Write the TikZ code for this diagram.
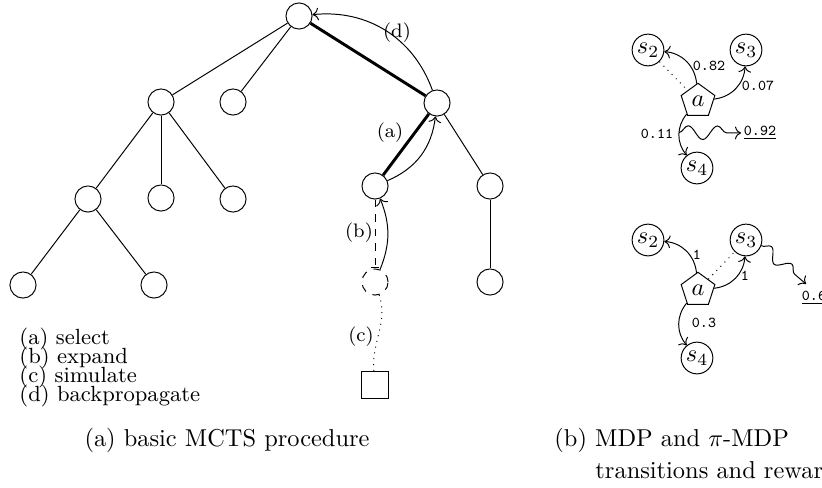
\documentclass[tikz,border=0pt]{standalone}
\usetikzlibrary{shapes.geometric,decorations.pathmorphing,arrows.meta}
\begin{document}
\begin{tikzpicture}[x=0.4098pt,y=-0.4098pt,
  tn/.style={circle,draw,minimum size=10.7pt,inner sep=0pt},
  boldedge/.style={line width=1.2pt},
  st/.style={circle,draw,minimum size=13pt,inner sep=0pt},
  act/.style={regular polygon,regular polygon sides=5,draw,minimum size=14.5pt,inner sep=0pt},
  prob/.style={font=\fontsize{6.2pt}{7pt}\selectfont\ttfamily,inner sep=1pt},
  rew/.style={font=\fontsize{6.2pt}{7pt}\selectfont\ttfamily,anchor=west,inner sep=1pt},
  tlab/.style={font=\footnotesize,inner sep=1pt},
  leg/.style={anchor=west,inner sep=0pt,font=\small},
  snk/.style={->,decorate,decoration={snake,amplitude=2.8pt,segment length=12pt,post length=3pt}}]
\useasboundingbox (0,0) rectangle (822,487);
% ---------- tree ----------
\node[tn] (r) at (299,16) {};
\node[tn] (a1) at (161,102) {};
\node[tn] (a2) at (233,102) {};
\node[tn] (a3) at (437,103) {};
\node[tn] (b1) at (88,199) {};
\node[tn] (b2) at (161,198) {};
\node[tn] (b3) at (233,199) {};
\node[tn] (c1) at (23,285) {};
\node[tn] (c2) at (154,285) {};
\node[tn] (b4) at (375,186) {};
\node[tn] (b5) at (490,186) {};
\node[tn] (c3) at (490,282) {};
\node[tn,dashed] (dc) at (375,282) {};
\node[draw,minimum width=11pt,minimum height=10.7pt,inner sep=0pt] (sq) at (375,385) {};
\draw (r) -- (a1);
\draw (r) -- (a2);
\draw[boldedge] (r) -- (a3);
\draw (a1) -- (b1);
\draw (a1) -- (b2);
\draw (a1) -- (b3);
\draw (b1) -- (c1);
\draw (b1) -- (c2);
\draw[boldedge] (a3) -- (b4);
\draw (a3) -- (b5);
\draw (b5) -- (c3);
\draw[->] (a3) to[bend right=38] (r);
\draw[->] (b4) to[bend right=30] (a3);
\draw[dashed,-{Bar[width=3.5pt]}] (b4) -- (dc);
\draw[->] (dc) to[bend right=22] (b4);
\draw[dotted] (dc) to[out=-72,in=95] (sq);
\node[tlab] (ld) at (397,33) {(d)};
\node[tlab] (la) at (390,133) {(a)};
\node[tlab] (lb) at (359,233) {(b)};
\node[tlab] (lc) at (361,337) {(c)};
\node[leg] (g1) at (19,339) {(a) select};
\node[leg] (g2) at (19,358) {(b) expand};
\node[leg] (g3) at (19,377) {(c) simulate};
\node[leg] (g4) at (19,396) {(d) backpropagate};
\node (cap1) at (227,440) {(a) basic MCTS procedure};
% ---------- MDP top ----------
\node[st] (s2) at (648,50) {$s_2$};
\node[st] (s3) at (746,50) {$s_3$};
\node[act] (a) at (698,101) {$a$};
\node[st] (s4) at (697,168) {$s_4$};
\draw[dotted] (s2) -- (a);
\draw[->] (a) to[bend right=40] (s2);
\draw[->] (a) to[bend right=40] (s3);
\draw[->] (a) to[bend right=40] coordinate[pos=0.45] (m1) (s4);
\node[prob] (p1) at (709,66) {0.82};
\node[prob] (p2) at (758,86) {0.07};
\node[prob] (p3) at (657,134) {0.11};
\node[rew] (r1) at (741,133) {\underline{0.92}};
\draw[snk] (m1) -- (r1.west);
% ---------- MDP bottom ----------
\node[st] (t2) at (648,240) {$s_2$};
\node[st] (t3) at (746,240) {$s_3$};
\node[act] (b) at (698,290) {$a$};
\node[st] (t4) at (697,358) {$s_4$};
\draw[dotted] (b) -- (t3);
\draw[->] (b) to[bend right=40] (t2);
\draw[->] (b) to[bend right=40] (t3);
\draw[->] (b) to[bend right=40] (t4);
\node[prob] (q1) at (697,255) {1};
\node[prob] (q2) at (745,276) {1};
\node[prob] (q3) at (704,323) {0.3};
\node[rew] (r2) at (799,298) {\underline{0.6}};
\coordinate (e2) at (806,284);
\draw[snk,decoration={amplitude=2.4pt,segment length=11pt}] (t3.-20) -- (e2);
\node[anchor=west,inner sep=0pt] (cap2) at (554,440) {(b) MDP and $\pi$-MDP};
\node[anchor=west,inner sep=0pt] (cap2b) at (595,470) {transitions and rewards};
\end{tikzpicture}
\end{document}
